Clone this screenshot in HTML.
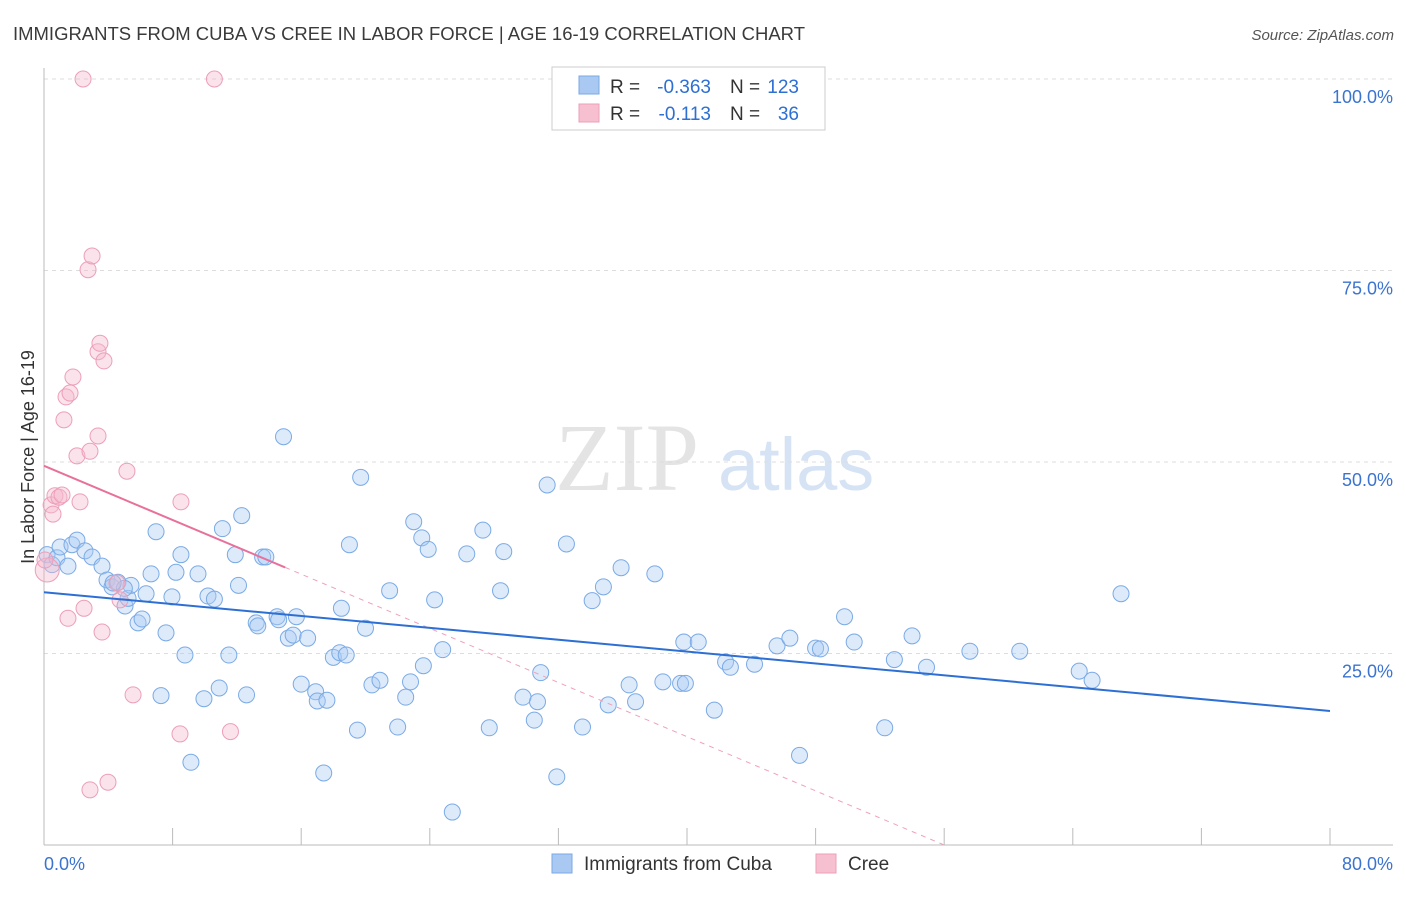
<!DOCTYPE html>
<html><head><meta charset="utf-8">
<style>
body{margin:0;width:1406px;height:892px;background:#fff;font-family:"Liberation Sans",sans-serif;overflow:hidden}
</style></head>
<body>
<svg id="chart" width="1406" height="892" xmlns="http://www.w3.org/2000/svg">
<text x="13" y="40" font-size="18" fill="#3a3a3a" textLength="792" lengthAdjust="spacingAndGlyphs">IMMIGRANTS FROM CUBA VS CREE IN LABOR FORCE | AGE 16-19 CORRELATION CHART</text>
<text x="1394" y="40" font-size="15" fill="#555" font-style="italic" text-anchor="end">Source: ZipAtlas.com</text>
<g>
<text x="555" y="490" font-size="96" fill="#e4e4e4" font-family="Liberation Serif,serif">ZIP</text>
<text x="718" y="490" font-size="74" fill="#d6e3f5">atlas</text>
</g>
<g id="grid"></g>
<g id="axes"></g>
<g id="marks"></g>
<text transform="translate(34,457) rotate(-90)" font-size="18" fill="#333" text-anchor="middle">In Labor Force | Age 16-19</text>
<g>
<rect x="552" y="67" width="273" height="63" fill="#fff" stroke="#ccc"/>
<rect x="579" y="76" width="20" height="18" fill="#a9c8f2" stroke="#7aaae6"/>
<rect x="579" y="104" width="20" height="18" fill="#f7c0d0" stroke="#ec9fb8"/>
<text x="610" y="93" font-size="19" fill="#333">R =</text>
<text x="711" y="93" font-size="19" fill="#2d6fd3" text-anchor="end">-0.363</text>
<text x="730" y="93" font-size="19" fill="#333">N =</text>
<text x="799" y="93" font-size="19" fill="#2d6fd3" text-anchor="end">123</text>
<text x="610" y="120" font-size="19" fill="#333">R =</text>
<text x="711" y="120" font-size="19" fill="#2d6fd3" text-anchor="end">-0.113</text>
<text x="730" y="120" font-size="19" fill="#333">N =</text>
<text x="799" y="120" font-size="19" fill="#2d6fd3" text-anchor="end">36</text>
</g>
<g>
<rect x="552" y="854" width="20" height="19" fill="#a9c8f2" stroke="#7aaae6"/>
<text x="584" y="870" font-size="19" fill="#333">Immigrants from Cuba</text>
<rect x="816" y="854" width="20" height="19" fill="#f7c0d0" stroke="#ec9fb8"/>
<text x="848" y="870" font-size="19" fill="#333">Cree</text>
</g>
</svg>
<script>
const yTicks=[100,75,50,25];
const yTickLabels=["100.0%","75.0%","50.0%","25.0%"];
const xTicks=[0,8,16,24,32,40,48,56,64,72,80];
const cubaX=[0.19,0.5,0.81,1.0,1.49,1.74,2.05,2.55,2.99,3.61,3.92,4.23,4.6,5.04,5.23,5.41,5.85,6.1,6.35,6.66,6.97,7.28,7.59,7.96,8.21,8.52,8.77,9.14,9.58,9.95,10.2,10.6,10.9,11.1,11.5,11.9,12.1,12.3,12.6,13.2,13.3,13.6,13.8,14.5,14.9,15.2,15.5,15.7,16.0,16.4,16.9,17.0,17.4,17.6,18.0,18.4,18.5,18.8,19.0,19.5,19.7,20.0,20.4,20.9,21.5,22.0,22.5,22.8,23.0,23.5,23.6,23.9,24.3,24.8,25.4,26.3,27.3,27.7,28.4,28.6,29.8,30.5,30.7,30.9,31.3,31.9,32.5,33.5,34.1,34.8,35.1,35.9,36.4,36.8,38.0,38.5,39.6,39.8,39.9,40.7,41.7,42.4,42.7,44.2,45.6,46.4,47.0,48.0,48.3,49.8,50.4,52.3,52.9,54.0,54.9,57.6,60.7,64.4,65.2,67.0,14.6,5.0,4.3];
const cubaY=[37.9,36.6,37.5,38.9,36.4,39.2,39.8,38.4,37.6,36.4,34.6,33.7,34.3,31.2,32.2,33.9,29.0,29.5,32.8,35.4,40.9,19.5,27.7,32.4,35.6,37.9,24.8,10.8,35.4,19.1,32.5,32.1,20.5,41.3,24.8,37.9,33.9,43.0,19.6,29.0,28.6,37.6,37.6,29.8,53.3,27.0,27.4,29.8,21.0,27.0,20.0,18.8,9.4,18.9,24.5,25.1,30.9,24.8,39.2,15.0,48.0,28.3,20.9,21.5,33.2,15.4,19.3,21.3,42.2,40.1,23.4,38.6,32.0,25.5,4.3,38.0,41.1,15.3,33.2,38.3,19.3,16.3,18.7,22.5,47.0,8.9,39.3,15.4,31.9,33.7,18.3,36.2,20.9,18.7,35.4,21.3,21.1,26.5,21.1,26.5,17.6,23.9,23.2,23.6,26.0,27.0,11.7,25.7,25.6,29.8,26.5,15.3,24.2,27.3,23.2,25.3,25.3,22.7,21.5,32.8,29.4,33.5,34.2];
const creeX=[0.2,0.44,0.56,0.68,0.93,1.12,1.24,1.37,1.49,1.62,1.8,2.05,2.24,2.49,2.74,2.86,2.99,2.86,3.36,3.36,3.48,3.61,3.73,3.98,4.54,4.73,5.16,5.54,8.46,8.52,11.6,2.43,10.6,0.06];
const creeY=[35.9,44.4,43.2,45.6,45.4,45.7,55.5,58.5,29.6,59.0,61.1,50.8,44.8,30.9,75.1,51.4,76.9,7.2,53.4,64.4,65.5,27.8,63.2,8.2,34.2,32.0,48.8,19.6,14.5,44.8,14.8,100,100,37.2];
const cubaTrend=[33.0,17.5];
const creeTrend=[49.5,0];
const creeZeroX=56;
const creeSolidEnd=15;

const NS="http://www.w3.org/2000/svg";
const X=v=>44+v/80*1286;
const Y=v=>845-v/100*766;
function mk(tag,attrs,parent){const e=document.createElementNS(NS,tag);for(const k in attrs)e.setAttribute(k,attrs[k]);parent.appendChild(e);return e;}
const grid=document.getElementById('grid'),axes=document.getElementById('axes'),marks=document.getElementById('marks');
yTicks.forEach((t,i)=>{
 const l=mk('line',{x1:44,x2:1393,y1:Y(t),y2:Y(t),stroke:'#ddd','stroke-dasharray':'4,4'},grid);
 
 
 const tx=mk('text',{x:1393,y:Y(t)+24,'font-size':18,fill:'#3b73d0','text-anchor':'end'},axes);
 tx.textContent=yTickLabels[i];
 
 
});
const ya=mk('line',{x1:44,x2:44,y1:68,y2:845,stroke:'#bbb'},axes);


const xa=mk('line',{x1:44,x2:1393,y1:845,y2:845,stroke:'#bbb'},axes);


xTicks.forEach(t=>{
 const l=mk('line',{x1:X(t),x2:X(t),y1:828,y2:845,stroke:'#bbb'},axes);
 
 
});
const x0=mk('text',{x:44,y:870,'font-size':18,fill:'#3b73d0'},axes);x0.textContent='0.0%';


const x1=mk('text',{x:1393,y:870,'font-size':18,fill:'#3b73d0','text-anchor':'end'},axes);x1.textContent='80.0%';



cubaX.forEach((v,i)=>{
 const c=mk('circle',{cx:X(v),cy:Y(cubaY[i]),r:8,fill:'rgba(170,202,242,0.4)',stroke:'#7aaae6','stroke-width':1},marks);
 
 
});
creeX.forEach((v,i)=>{
 const c=mk('circle',{cx:X(v),cy:Y(creeY[i]),r:i===0?12:8,fill:'rgba(245,185,205,0.4)',stroke:'#ec9fb8','stroke-width':1},marks);
 
 
});
const cy=x=>creeTrend[0]+(creeTrend[1]-creeTrend[0])*x/creeZeroX;
const pd=mk('line',{x1:X(creeSolidEnd),y1:Y(cy(creeSolidEnd)),x2:X(creeZeroX),y2:Y(0),stroke:'#f0a0bb','stroke-dasharray':'5,5','stroke-width':1},marks);


const ps=mk('line',{x1:X(0),y1:Y(cy(0)),x2:X(creeSolidEnd),y2:Y(cy(creeSolidEnd)),stroke:'#e8709a','stroke-width':2},marks);


const bl=mk('line',{x1:X(0),y1:Y(cubaTrend[0]),x2:X(80),y2:Y(cubaTrend[1]),stroke:'#2d6fd3','stroke-width':2},marks);


</script>
</body></html>
